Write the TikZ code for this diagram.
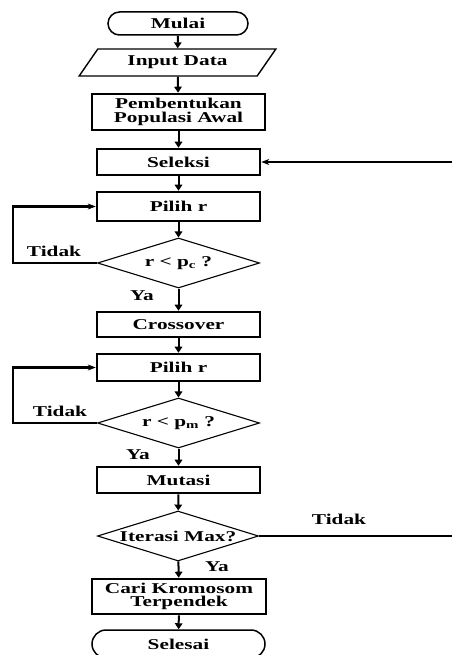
\documentclass[tikz,border=0pt]{standalone}
\usepackage{fontspec}
\setmainfont{Liberation Serif}[FakeStretch=1.42]
\usetikzlibrary{shapes.geometric,shapes.misc,arrows.meta}
\begin{document}
\begin{tikzpicture}[x=1pt,y=-1pt,
  every node/.style={font=\fontsize{15}{15.5}\selectfont\bfseries, inner sep=0pt, align=center},
  proc/.style={draw, rectangle, line width=2.6pt, minimum width=163pt},
  term/.style={draw, rounded rectangle, line width=1.5pt},
  io/.style={draw, trapezium, trapezium left angle=48, trapezium right angle=132, trapezium stretches=true, line width=1.4pt, minimum width=197pt, minimum height=27pt},
  dec/.style={draw, diamond, line width=1.1pt, minimum width=162pt, minimum height=50pt, aspect=3.24},
  arr/.style={line width=2pt, -{Triangle[length=6pt,width=7.5pt]}},
  loop/.style={line width=2.6pt, -{Stealth[length=8pt,width=6pt,line width=0.6pt]}},
  thin/.style={line width=1.3pt},
  lbl/.style={}
]
\useasboundingbox (0,0) rectangle (452,655);
\node[term, minimum width=140pt, minimum height=23pt] (mulai) at (178,23.5) {Mulai};
\node[io] (input) at (177.5,62.5) {Input Data};
\node[proc, minimum width=173pt, minimum height=36pt] (awal) at (178.5,112) {Pembentukan\\[-2pt]Populasi Awal};
\node[proc, minimum height=26pt] (seleksi) at (178.5,162) {Seleksi};
\node[proc, minimum height=29pt] (pilih1) at (178.5,206.5) {Pilih r};
\node[dec] (d1) at (178.5,263) {r < p\textsubscript{c} ?};
\node[proc, minimum height=25pt] (cross) at (178.5,324.5) {Crossover};
\node[proc, minimum height=27pt] (pilih2) at (178.5,367.5) {Pilih r};
\node[dec] (d2) at (178.5,423) {r < p\textsubscript{m} ?};
\node[proc, minimum height=26pt] (mutasi) at (178.5,480) {Mutasi};
\node[dec, minimum width=161pt] (d3) at (178,536) {Iterasi Max?};
\node[proc, minimum width=174pt, minimum height=35pt] (cari) at (179,596.5) {Cari Kromosom\\[-2pt]Terpendek};
\node[term, minimum width=173pt, minimum height=28pt] (selesai) at (178.5,644) {Selesai};

\node[lbl] (t1) at (54,251) {Tidak};
\node[lbl] (y1) at (142,296) {Ya};
\node[lbl] (t2) at (60,411) {Tidak};
\node[lbl] (y2) at (138,455) {Ya};
\node[lbl] (t3) at (339,519) {Tidak};
\node[lbl] (y3) at (217,567) {Ya};

\coordinate (rin) at (452,162);
\coordinate (rout) at (452,536);

\draw[arr] (mulai) -- (input);
\draw[arr] (input) -- (awal);
\draw[arr] (awal) -- (seleksi);
\draw[arr] (seleksi) -- (pilih1);
\draw[arr] (pilih1) -- (d1);
\draw[arr] (d1) -- (cross);
\draw[arr] (cross) -- (pilih2);
\draw[arr] (pilih2) -- (d2);
\draw[arr] (d2) -- (mutasi);
\draw[arr] (mutasi) -- (d3);
\draw[arr] (d3) -- (cari);
\draw[arr] (cari) -- (selesai);

\draw[loop] (d1.west) -- ++(-84,0) |- (pilih1.west);
\draw[loop] (d2.west) -- ++(-84,0) |- (pilih2.west);
\draw[thin, -{Stealth[length=8pt,width=6pt]}] (rin) -- (seleksi.east);
\draw[thin] (d3.east) -- (rout);
\end{tikzpicture}
\end{document}
